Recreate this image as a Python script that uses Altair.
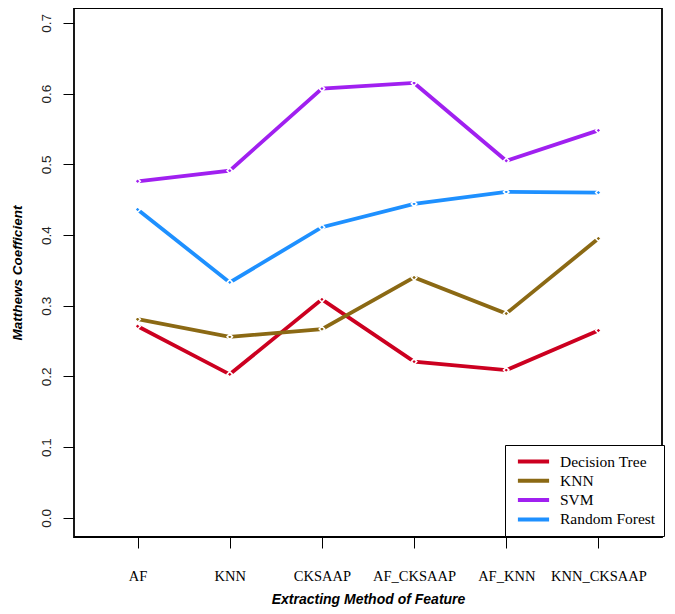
import altair as alt
import pandas as pd

methods = ["AF", "KNN", "CKSAAP", "AF_CKSAAP", "AF_KNN", "KNN_CKSAAP"]
series_names = ["Decision Tree", "KNN", "SVM", "Random Forest"]
decision_tree = [0.271, 0.203, 0.309, 0.221, 0.209, 0.265]
knn = [0.281, 0.256, 0.267, 0.340, 0.289, 0.395]
svm = [0.476, 0.491, 0.607, 0.615, 0.505, 0.548]
random_forest = [0.436, 0.333, 0.411, 0.444, 0.461, 0.460]
colors = ["#CC0020", "#8B6914", "#A020F0", "#1E90FF"]

rows = []
for name, vals in zip(series_names, [decision_tree, knn, svm, random_forest]):
    for m, v in zip(methods, vals):
        rows.append({"method": m, "model": name, "mcc": v})
df = pd.DataFrame(rows)

x_scale = alt.Scale(type="point", padding=0.69)
y_scale = alt.Scale(domain=[-0.027, 0.721], nice=False, zero=False)

x_enc = alt.X(
    "method:N",
    sort=methods,
    scale=x_scale,
    axis=alt.Axis(
        title="Extracting Method of Feature",
        labelAngle=0,
        labelFont="Liberation Serif",
        labelFontSize=14.5,
        labelColor="black",
        labelPadding=21,
        tickSize=11,
        tickColor="black",
        tickWidth=1,
        domain=False,
        grid=False,
        titleFont="Liberation Sans",
        titleFontSize=14,
        titleFontStyle="italic",
        titleFontWeight="bold",
        titleColor="black",
        titlePadding=10,
    ),
)
y_enc = alt.Y(
    "mcc:Q",
    scale=y_scale,
    axis=alt.Axis(
        title="Matthews Coefficient",
        values=[0.0, 0.1, 0.2, 0.3, 0.4, 0.5, 0.6, 0.7],
        format=".1f",
        labelAngle=270,
        labelAlign="center",
        labelBaseline="bottom",
        labelFont="Liberation Sans",
        labelFontSize=13.5,
        labelColor="#222222",
        labelPadding=10,
        tickSize=11,
        tickColor="black",
        tickWidth=1,
        domain=False,
        grid=False,
        titleFont="Liberation Sans",
        titleFontSize=13.5,
        titleFontStyle="italic",
        titleFontWeight="bold",
        titleColor="black",
        titlePadding=15,
    ),
)
color_enc = alt.Color(
    "model:N",
    sort=series_names,
    scale=alt.Scale(domain=series_names, range=colors),
    legend=alt.Legend(
        title=None,
        orient="none",
        legendX=431,
        legendY=437,
        symbolType="M-2.4,0H2.4",
        symbolSize=169,
        symbolStrokeWidth=4,
        symbolFillColor="transparent",
        labelFont="Liberation Serif",
        labelFontSize=15.5,
        labelColor="black",
        labelOffset=18,
        symbolOffset=12,
        rowPadding=2.3,
        padding=8,
        strokeColor="black",
        fillColor="white",
        cornerRadius=0,
        labelLimit=200,
    ),
)

lines = alt.Chart(df).mark_line(strokeWidth=3.8).encode(
    x=x_enc, y=y_enc, color=color_enc, detail="model:N"
)
points = alt.Chart(df).mark_point(
    shape="diamond", filled=True, size=30, stroke="white", strokeWidth=1.5, opacity=1
).encode(
    x=alt.X("method:N", sort=methods, scale=x_scale),
    y=alt.Y("mcc:Q", scale=y_scale),
    fill=alt.Fill("model:N", scale=alt.Scale(domain=series_names, range=colors), legend=None),
)

chart = (
    alt.layer(lines, points)
    .properties(
        width=588,
        height=529,
        autosize=alt.AutoSizeParams(type="none"),
        padding={"left": 66, "top": 0, "right": 5, "bottom": 76},
        background="white",
    )
    .configure_view(stroke="black", strokeWidth=1.8)
)

chart.save("out.html", embed_options={"renderer": "svg", "actions": False})
